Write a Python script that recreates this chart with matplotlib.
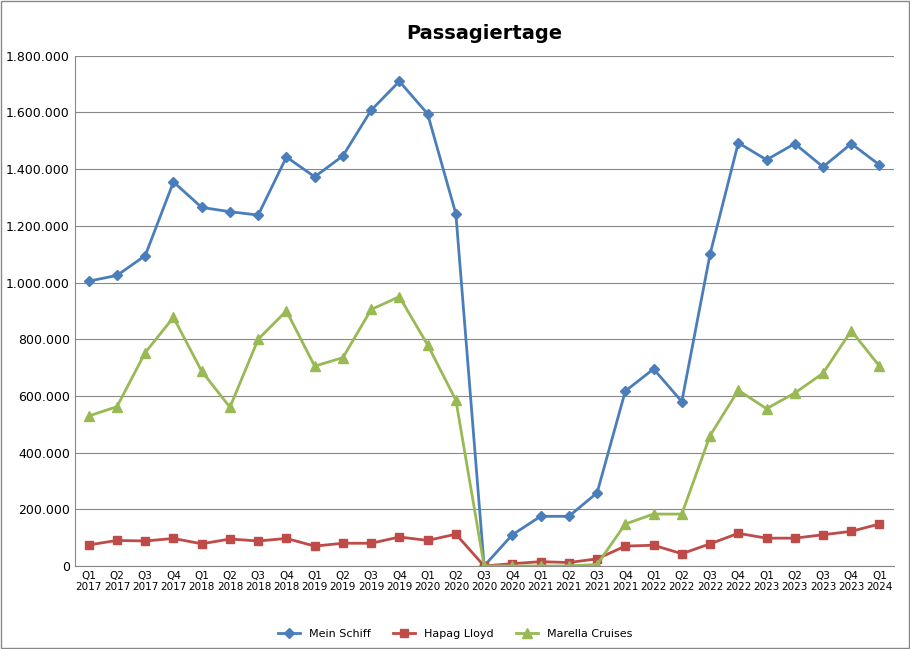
import matplotlib.pyplot as plt
from matplotlib.ticker import FuncFormatter

quarters = [f"Q{q}\n{y}" for y in range(2017, 2025) for q in range(1, 5)][:29]

mein_schiff = [1005, 1025, 1095, 1355, 1265, 1250, 1238, 1443, 1373, 1447, 1608, 1710,
               1595, 1242, 0, 110, 175, 175, 258, 617, 695, 580, 1100, 1493, 1433, 1490,
               1408, 1490, 1415]
hapag_lloyd = [74, 90, 88, 97, 78, 95, 88, 97, 70, 80, 80, 102, 90, 112, 0, 8, 15, 12,
               25, 70, 73, 43, 78, 115, 98, 98, 110, 122, 148]
marella = [529, 562, 753, 877, 687, 560, 800, 900, 705, 735, 905, 950, 780, 585, 0, 0,
           0, 0, 5, 148, 183, 183, 460, 620, 555, 610, 680, 830, 705]

fig = plt.figure(figsize=(9.1, 6.49), dpi=100)
ax = fig.add_axes([0.082, 0.128, 0.9, 0.786])
x = range(len(quarters))
ax.plot(x, [v * 1000 for v in mein_schiff], color="#4a7ebb", marker="D", ms=5, lw=2, label="Mein Schiff")
ax.plot(x, [v * 1000 for v in hapag_lloyd], color="#be4b48", marker="s", ms=6, lw=2, label="Hapag Lloyd")
ax.plot(x, [v * 1000 for v in marella], color="#98b954", marker="^", ms=7, lw=2, label="Marella Cruises")

ax.set_ylim(0, 1800000)
ax.set_yticks(range(0, 1800001, 200000))
ax.yaxis.set_major_formatter(FuncFormatter(lambda v, p: f"{int(v):,}".replace(",", ".")))
ax.set_xlim(-0.5, len(quarters) - 0.5)
ax.set_xticks(list(x))
ax.set_xticklabels(quarters, fontsize=7.5)
ax.tick_params(axis="y", labelsize=9, length=0)
ax.tick_params(axis="x", length=0)
ax.grid(axis="y", color="#888888", lw=0.8)
ax.set_axisbelow(True)
for s in ["top", "right"]:
    ax.spines[s].set_visible(False)
ax.spines["left"].set_color("#888888")
ax.spines["bottom"].set_color("#888888")
ax.set_title("Passagiertage", fontsize=14, fontweight="bold", pad=12)
fig.legend(loc="lower center", ncol=3, frameon=False, fontsize=8, bbox_to_anchor=(0.5, 0.0))
fig.patches.append(plt.Rectangle((0.001, 0.001), 0.998, 0.998, transform=fig.transFigure,
                                 fill=False, edgecolor="#888888", lw=1))
fig.savefig("out.png")
